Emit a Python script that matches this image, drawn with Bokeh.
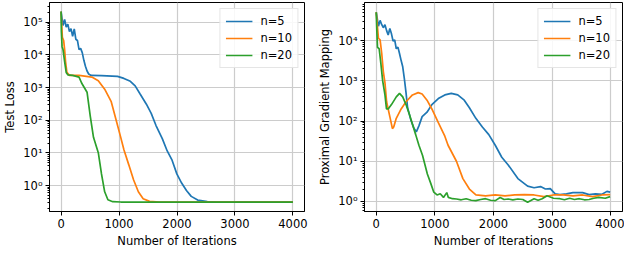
from bokeh.plotting import figure
from bokeh.layouts import row
from bokeh.models import Range1d, FixedTicker, CustomJSTickFormatter, Legend, LegendItem
from bokeh.embed import file_html
from bokeh.resources import INLINE

# ---------------- data ----------------
series_names = ["n=5", "n=10", "n=20"]
colors = ["#1f77b4", "#ff7f0e", "#2ca02c"]
x_ticks = [0, 1000, 2000, 3000, 4000]

# Left panel: Test Loss
loss_x_n5 = [0, 33, 61, 88, 116, 144, 171, 199, 227, 254, 282, 310, 337, 365, 393, 420, 448, 476, 519, 697,
             974, 1084, 1195, 1278, 1361, 1472, 1555, 1638, 1748, 1831, 1915, 1997, 2080, 2163, 2246, 2357,
             2523, 2689, 4000]
loss_y_n5 = [2.1e5, 7.9e4, 1.2e5, 7.1e4, 8.7e4, 5.1e4, 6.3e4, 3.7e4, 6.2e4, 3.0e4, 2.75e4, 1.45e4, 1.58e4,
             1.17e4, 6.8e3, 4.5e3, 3.2e3, 2.6e3, 2.35e3, 2.3e3, 2.19e3, 1.9e3, 1.55e3, 1.12e3, 645, 309, 162,
             69, 27, 11.5, 6.0, 2.29, 1.2, 0.71, 0.47, 0.363, 0.324, 0.316, 0.316]
loss_x_n10 = [0, 22, 44, 61, 77, 100, 144, 310, 531, 642, 752, 863, 946, 1029, 1084, 1167, 1250, 1333, 1416,
              1527, 1693, 4000]
loss_y_n10 = [2.1e5, 3.4e4, 2.75e4, 1.45e4, 6.2e3, 2.9e3, 2.35e3, 2.35e3, 2.09e3, 1.62e3, 890, 380, 107, 30,
              12.6, 4.4, 1.51, 0.65, 0.4, 0.331, 0.316, 0.316]
loss_x_n20 = [0, 5, 17, 33, 61, 88, 116, 199, 310, 354, 448, 504, 559, 642, 697, 752, 808, 891, 1029, 4000]
loss_y_n20 = [2.1e5, 5.1e4, 1.78e4, 1.45e4, 6.2e3, 2.9e3, 2.45e3, 2.35e3, 2.09e3, 1.38e3, 720, 132, 30, 10.2,
              2.29, 0.65, 0.37, 0.324, 0.316, 0.316]

# Right panel: Proximal Gradient Mapping
pgm_x_n5 = [0, 38, 66, 94, 121, 149, 177, 204, 232, 260, 287, 315, 342, 370, 397, 425, 452, 480, 508, 535,
            590, 645, 684, 728, 783, 866, 949, 1059, 1170, 1280, 1390, 1501, 1589, 1699, 1810, 1920, 2030,
            2141, 2251, 2416, 2582, 2692, 2802, 2885, 2968, 3051, 3133, 3244, 3355, 3520, 3630, 3740, 3851,
            3934, 3989]
pgm_y_n5 = [5.1e4, 2.3e4, 3.2e4, 2.5e4, 2.1e4, 2.5e4, 1.78e4, 1.38e4, 2.0e4, 1.48e4, 9.8e3, 1.05e4, 6.3e3,
            6.9e3, 4.8e3, 3.2e3, 2.24e3, 1.12e3, 510, 214, 107, 65, 54, 76, 129, 166, 257, 363, 447, 490, 447,
            331, 214, 117, 71, 46, 25, 12.6, 8.1, 3.7, 2.4, 2.19, 2.34, 2.04, 2.09, 1.55, 1.48, 1.55, 1.66,
            1.66, 1.48, 1.55, 1.51, 1.78, 1.7]
pgm_x_n10 = [0, 38, 66, 94, 121, 149, 177, 232, 276, 298, 342, 425, 508, 618, 716, 783, 866, 949, 1059, 1170,
             1225, 1368, 1478, 1589, 1700, 1865, 2031, 2196, 2362, 2527, 2692, 2858, 3023, 3189, 3355, 3520,
             3686, 3851, 3989]
pgm_y_n10 = [5.1e4, 1.15e4, 1.05e4, 4.8e3, 1.7e3, 890, 302, 129, 65, 71, 117, 200, 302, 447, 510, 470, 331,
             200, 91, 42, 25, 10, 3.7, 2.04, 1.45, 1.38, 1.45, 1.38, 1.45, 1.48, 1.45, 1.32, 1.45, 1.45, 1.38,
             1.45, 1.32, 1.45, 1.48]
pgm_x_n20 = [0, 11, 22, 50, 77, 110, 149, 175, 204, 260, 342, 397, 452, 508, 563, 618, 673, 728, 789, 872,
             927, 982, 1037, 1092, 1147, 1203, 1230, 1300, 1368, 1450, 1534, 1620, 1699, 1780, 1865, 1950,
             2031, 2113, 2180, 2251, 2330, 2416, 2500, 2582, 2692, 2760, 2830, 2913, 3023, 3133, 3210, 3299,
             3380, 3465, 3550, 3630, 3710, 3795, 3906, 3989]
pgm_y_n20 = [5.1e4, 1.62e4, 6.8e3, 6.3e3, 2.9e3, 1.0e3, 447, 200, 200, 257, 400, 490, 400, 257, 151, 83, 46,
             25, 14.1, 4.8, 2.9, 1.7, 1.45, 1.55, 1.26, 1.66, 1.26, 1.17, 1.15, 1.1, 1.17, 1.07, 1.05, 1.12,
             1.17, 1.07, 1.05, 1.26, 1.12, 1.15, 1.1, 1.15, 1.12, 0.96, 1.17, 1.07, 1.17, 1.38, 1.2, 1.17, 1.1,
             1.2, 1.12, 1.17, 1.1, 1.12, 1.2, 1.26, 1.2, 1.32]

FONT = "DejaVu Sans"
FS = "11.5px"

sup_js = """
const sup = {"0":"\u2070","1":"\u00b9","2":"\u00b2","3":"\u00b3","4":"\u2074","5":"\u2075",
             "6":"\u2076","7":"\u2077","8":"\u2078","9":"\u2079","-":"\u207b"};
const e = Math.round(Math.log10(tick));
return "10" + String(e).split("").map(c => sup[c]).join("");
"""


def make_panel(xs, ys, ylabel, ymin, ymax, exps, width, bl, br):
    p = figure(width=width, height=250, x_range=Range1d(-200, 4200), y_range=Range1d(ymin, ymax),
               y_axis_type="log", output_backend="svg", toolbar_location=None,
               min_border_left=bl, min_border_right=br, min_border_top=2, min_border_bottom=37)
    p.background_fill_color = "white"
    p.border_fill_color = "white"
    p.outline_line_color = "black"
    p.outline_line_width = 1
    p.outline_line_alpha = 1

    major = [10.0 ** e for e in exps]
    minor = [k * 10.0 ** e for e in range(exps[0] - 1, exps[-1] + 1) for k in range(2, 10)]
    p.xaxis.ticker = FixedTicker(ticks=x_ticks, minor_ticks=[])
    p.yaxis.ticker = FixedTicker(ticks=major, minor_ticks=minor)
    p.yaxis.formatter = CustomJSTickFormatter(code=sup_js)

    for ax in (p.xaxis, p.yaxis):
        ax.axis_line_color = "black"
        ax.major_tick_line_color = "black"
        ax.minor_tick_line_color = "black"
        ax.major_tick_out = 4
        ax.major_tick_in = 0
        ax.minor_tick_out = 2
        ax.minor_tick_in = 0
        ax.major_label_text_font = FONT
        ax.major_label_text_font_size = FS
        ax.major_label_text_color = "black"
        ax.major_label_standoff = 3
        ax.axis_label_text_font = FONT
        ax.axis_label_text_font_size = FS
        ax.axis_label_text_font_style = "normal"
        ax.axis_label_text_color = "black"
        ax.axis_label_standoff = 3
    p.xaxis.axis_label = "Number of Iterations"
    p.yaxis.axis_label = ylabel

    p.xgrid.grid_line_color = "#cccccc"
    p.ygrid.grid_line_color = "#cccccc"
    p.xgrid.grid_line_width = 1.2
    p.ygrid.grid_line_width = 1.2

    items = []
    for (x, y), c, n in zip(zip(xs, ys), colors, series_names):
        r = p.line(x, y, line_color=c, line_width=1.7)
        items.append(LegendItem(label=n, renderers=[r]))
    leg = Legend(items=items, location="top_right")
    leg.label_text_font = FONT
    leg.label_text_font_size = FS
    leg.label_text_color = "black"
    leg.glyph_width = 27
    leg.glyph_height = 14
    leg.label_height = 14
    leg.label_standoff = 8
    leg.spacing = 3
    leg.padding = 5
    leg.margin = 6
    leg.border_line_color = "#cccccc"
    leg.border_line_width = 1
    leg.background_fill_alpha = 0.85
    p.add_layout(leg)
    return p


left = make_panel([loss_x_n5, loss_x_n10, loss_x_n20], [loss_y_n5, loss_y_n10, loss_y_n20],
                  "Test Loss", 10 ** -0.79, 10 ** 5.6, [0, 1, 2, 3, 4, 5], 314, 45, 10)
right = make_panel([pgm_x_n5, pgm_x_n10, pgm_x_n20], [pgm_y_n5, pgm_y_n10, pgm_y_n20],
                   "Proximal Gradient Mapping", 10 ** -0.25, 10 ** 4.95, [0, 1, 2, 3, 4], 310, 50, 2)

layout = row(left, right)
open("out.html", "w").write(file_html(layout, INLINE))
